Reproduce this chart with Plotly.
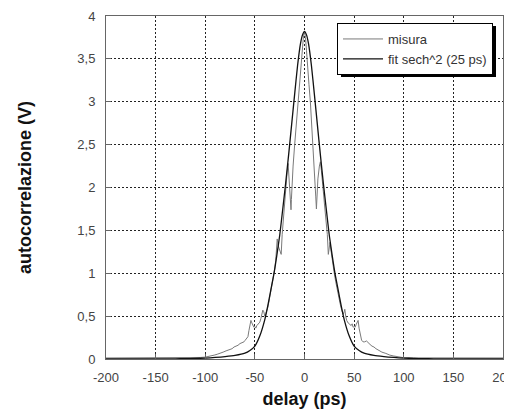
import plotly.graph_objects as go

# ---- data ----
misura_x = [-200, -180, -160, -150, -140, -120, -110, -105, -100, -97, -94, -91, -88, -85, -82, -79,
            -76, -73, -71, -69, -67, -65, -63, -61, -60, -58, -57, -56, -55, -54, -53, -52, -51, -50,
            -49, -48, -47, -46, -45, -44, -43, -42, -41, -40, -39, -38, -37, -36, -35, -34, -33, -32,
            -31, -30, -29, -28.5, -27.5, -26.5, -25, -23.5, -22.5, -21.5, -20.5, -19.5, -18.5, -17.5,
            -16.5, -15.5, -14.3, -13.6, -13.2, -12.5, -11.5, -9.9, -8.5, -7.5, -6.5, -5.5, -4.5, -3.2,
            -2, -1, 0,
            1, 2, 2.5, 3.5, 4.5, 5.9, 7, 8.6, 9.5, 10.5, 11.3, 12, 12.7, 13.5, 15, 16, 17, 18, 19, 20,
            21, 22, 23, 24, 25, 25.7, 26.5, 27.5, 28.5, 30, 31.5, 33, 34.5, 36, 37.5, 39, 40, 40.6,
            41.5, 42.5, 44, 45.5, 47, 48, 49, 50, 51, 52, 53, 54, 55, 56, 57.5, 59, 60.5, 62.5, 64, 66,
            68, 70, 72, 75, 78, 82, 86, 90, 95, 100, 110, 130, 150, 170, 200]
misura_y = [0.012, 0.012, 0.013, 0.015, 0.012, 0.014, 0.016, 0.018, 0.022, 0.028, 0.035, 0.045, 0.055,
            0.065, 0.08, 0.095, 0.105, 0.12, 0.14, 0.15, 0.16, 0.18, 0.19, 0.2, 0.215, 0.24, 0.26, 0.33,
            0.40, 0.45, 0.42, 0.39, 0.37, 0.38, 0.36, 0.39, 0.40, 0.41, 0.43, 0.47, 0.53, 0.57, 0.55,
            0.50, 0.53, 0.56, 0.60, 0.66, 0.72, 0.78, 0.84, 0.90, 0.97, 1.05, 1.15, 1.28, 1.40, 1.32,
            1.26, 1.22, 1.45, 1.62, 1.78, 1.92, 2.05, 2.18, 2.28, 2.12, 1.92, 1.74, 1.86, 2.05, 2.25,
            2.50, 2.70, 2.86, 3.0, 3.16, 3.30, 3.50, 3.65, 3.77, 3.82,
            3.75, 3.60, 3.50, 3.36, 3.20, 3.0, 2.80, 2.50, 2.30, 2.10, 1.90, 1.75, 1.90, 2.10, 2.25,
            2.30, 2.20, 2.10, 1.95, 1.82, 1.70, 1.60, 1.45, 1.22, 1.30, 1.36, 1.28, 1.18, 1.10, 1.0,
            0.90, 0.80, 0.72, 0.64, 0.57, 0.52, 0.55, 0.58, 0.50, 0.45, 0.42, 0.40, 0.39, 0.41, 0.37,
            0.38, 0.37, 0.40, 0.43, 0.45, 0.36, 0.28, 0.22, 0.20, 0.20, 0.21, 0.19, 0.17, 0.15, 0.14,
            0.12, 0.10, 0.08, 0.065, 0.045, 0.035, 0.022, 0.015, 0.013, 0.012, 0.015, 0.012, 0.012]

fit_x = [-200, -150, -130, -120, -110, -100, -90, -80, -70, -60, -55, -50, -45, -40, -37, -34, -31,
         -28, -25, -22, -19, -16, -13, -10, -7, -4, -2, 0,
         2, 4, 7, 10, 13, 16, 19, 22, 25, 28, 31, 34, 37, 40, 45, 50, 55, 60, 70, 80, 90, 100,
         110, 120, 130, 150, 200]
fit_y = [0, 0, 0.002, 0.004, 0.007, 0.011, 0.018, 0.028, 0.042, 0.068, 0.10, 0.15, 0.27, 0.46, 0.62,
         0.80, 0.98, 1.20, 1.44, 1.74, 2.05, 2.38, 2.73, 3.08, 3.42, 3.68, 3.78, 3.82,
         3.78, 3.68, 3.42, 3.08, 2.73, 2.38, 2.05, 1.74, 1.44, 1.20, 0.98, 0.80, 0.62, 0.46, 0.27,
         0.15, 0.10, 0.068, 0.042, 0.028, 0.018, 0.011, 0.007, 0.004, 0.002, 0, 0]

x_ticks = [-200, -150, -100, -50, 0, 50, 100, 150, 200]
x_tick_labels = ["-200", "-150", "-100", "-50", "0", "50", "100", "150", "200"]
y_ticks = [0, 0.5, 1, 1.5, 2, 2.5, 3, 3.5, 4]
y_tick_labels = ["0", "0,5", "1", "1,5", "2", "2,5", "3", "3,5", "4"]

# page has an 8px body margin: figure coordinates = page coordinates - 8
OFF = 8
W, H = 512 - OFF, 417 - OFF
L, R, T, B = 106 - OFF, 9, 16 - OFF, 58
pw, ph = W - L - R, H - T - B


def px_to_paper_x(px_page):
    return (px_page - OFF - L) / pw


def px_to_paper_y(py_page):
    return (H - B - (py_page - OFF)) / ph


FONT = "Liberation Sans, Arial, sans-serif"

fig = go.Figure()
fig.add_trace(go.Scatter(x=misura_x, y=misura_y, mode="lines", name="misura",
                         line=dict(color="#7a7a7a", width=1)))
fig.add_trace(go.Scatter(x=fit_x, y=fit_y, mode="lines", name="fit sech^2 (25 ps)",
                         line=dict(color="#111111", width=1.3, shape="spline", smoothing=0.6)))

axis_common = dict(showline=True, linecolor="#666666", linewidth=1, mirror=True,
                   showgrid=True, gridcolor="#222222", gridwidth=1, griddash="2px,2px",
                   zeroline=False, ticks="inside", ticklen=5, tickcolor="#666666",
                   ticklabeloverflow="allow",
                   tickfont=dict(family=FONT, size=13, color="#444444"))

fig.update_xaxes(range=[-200, 200], tickvals=x_ticks, ticktext=x_tick_labels, ticklabelstandoff=6,
                 title=dict(text="<b>delay (ps)</b>", standoff=8,
                            font=dict(family=FONT, size=18, color="#111111")),
                 **axis_common)
fig.update_yaxes(range=[0, 4], tickvals=y_ticks, ticktext=y_tick_labels, ticklabelstandoff=7,
                 title=dict(text="<b>autocorrelazione (V)</b>", standoff=41,
                            font=dict(family=FONT, size=18, color="#111111")),
                 **axis_common)

# legend box (page px) and its drop shadow
LEG_LEFT, LEG_RIGHT, LEG_TOP, LEG_H = 338, 493, 23, 51
fig.add_shape(type="rect", xref="paper", yref="paper",
              x0=px_to_paper_x(LEG_LEFT + 3), x1=px_to_paper_x(LEG_RIGHT + 3),
              y0=px_to_paper_y(LEG_TOP + LEG_H + 3), y1=px_to_paper_y(LEG_TOP + 3),
              fillcolor="#000000", line=dict(width=0), layer="above")

fig.update_layout(
    width=W, height=H,
    margin=dict(l=L, r=R, t=T, b=B, autoexpand=False),
    paper_bgcolor="white", plot_bgcolor="white",
    showlegend=True,
    legend=dict(x=px_to_paper_x(LEG_RIGHT), xanchor="right", y=px_to_paper_y(LEG_TOP), yanchor="top",
                bgcolor="white", bordercolor="#000000", borderwidth=1,
                font=dict(family=FONT, size=13, color="#333333"),
                itemwidth=40, tracegroupgap=0),
)

fig.write_html("out.html")
